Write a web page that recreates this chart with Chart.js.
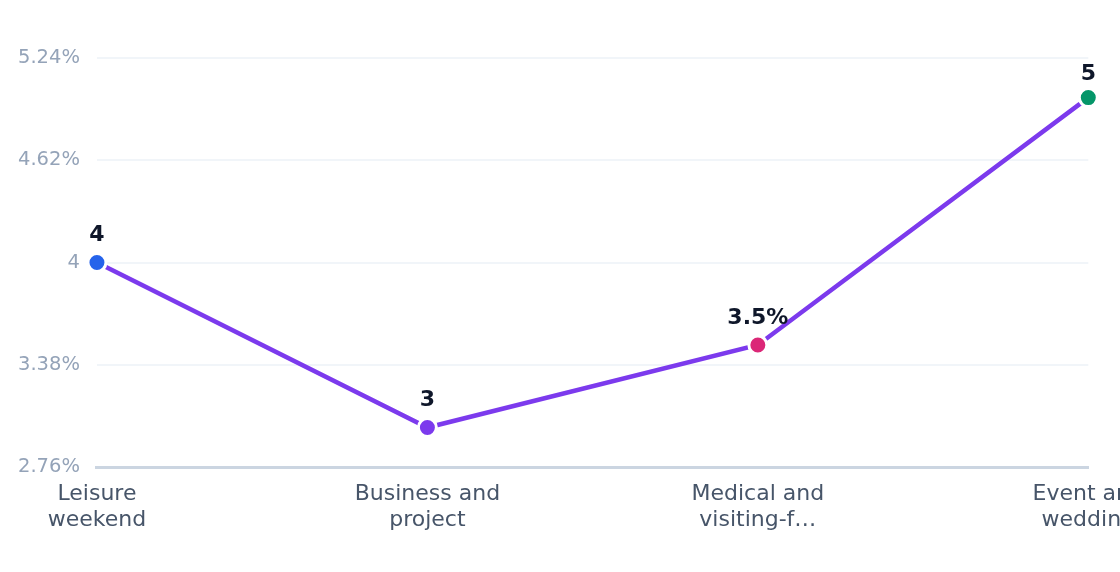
<!DOCTYPE html>
<html>
<head>
<meta charset="utf-8">
<script src="https://cdn.jsdelivr.net/npm/chart.js@4"></script>
<style>
  html, body { margin: 0; padding: 0; background: #ffffff; overflow: hidden; }
  #wrap { width: 1150px; height: 572px; position: relative; }
</style>
</head>
<body>
<div id="wrap"><canvas id="c"></canvas></div>
<script>
const categories = [['Leisure', 'weekend'], ['Business and', 'project'], ['Medical and', 'visiting-f…'], ['Event and', 'wedding']];
const values = [4, 3, 3.5, 5];
const valueLabels = ['4', '3', '3.5%', '5'];
const pointColors = ['#2563eb', '#7c3aed', '#db2777', '#059669'];
const tickValues = [2.76, 3.38, 4, 4.62, 5.24];
const tickLabels = ['2.76%', '3.38%', '4', '4.62%', '5.24%'];

const FONT = '"DejaVu Sans", sans-serif';

const valueLabelPlugin = {
  id: 'valueLabels',
  afterDatasetsDraw(chart) {
    const ctx = chart.ctx;
    const meta = chart.getDatasetMeta(0);
    ctx.save();
    ctx.font = 'bold 22px ' + FONT;
    ctx.fillStyle = '#0f172a';
    ctx.textAlign = 'center';
    ctx.textBaseline = 'middle';
    meta.data.forEach((pt, i) => {
      const y = Math.max(pt.y - 27, chart.chartArea.top + 16);
      ctx.fillText(valueLabels[i], pt.x, y);
    });
    ctx.restore();
  }
};

new Chart(document.getElementById('c'), {
  type: 'line',
  data: {
    labels: categories,
    datasets: [{
      data: values,
      borderColor: '#7c3aed',
      borderWidth: 4.5,
      tension: 0,
      fill: false,
      pointRadius: 9,
      pointHoverRadius: 9,
      pointBorderWidth: 3,
      pointBorderColor: '#ffffff',
      pointBackgroundColor: pointColors
    }]
  },
  options: {
    responsive: true,
    maintainAspectRatio: false,
    animation: false,
    devicePixelRatio: 1,
    layout: { padding: { left: 1, top: 58, right: 0, bottom: 33 } },
    plugins: { legend: { display: false }, tooltip: { enabled: false } },
    scales: {
      x: {
        offset: false,
        grid: { display: false },
        border: { display: true, color: '#cbd5e1', width: 3 },
        ticks: {
          color: '#475569',
          font: { family: FONT, size: 22, lineHeight: 1.18 },
          maxRotation: 0,
          autoSkip: false,
          padding: 6
        }
      },
      y: {
        min: 2.76,
        max: 5.24,
        afterBuildTicks(scale) {
          scale.ticks = tickValues.map(v => ({ value: v }));
        },
        grid: { color: '#f1f5f9', lineWidth: 2, drawTicks: false },
        border: { display: false },
        ticks: {
          color: '#94a3b8',
          font: { family: FONT, size: 19.5 },
          padding: 17,
          callback(value) {
            const i = tickValues.findIndex(t => Math.abs(t - value) < 1e-6);
            return i >= 0 ? tickLabels[i] : '';
          }
        }
      }
    }
  },
  plugins: [valueLabelPlugin]
});
</script>
</body>
</html>
